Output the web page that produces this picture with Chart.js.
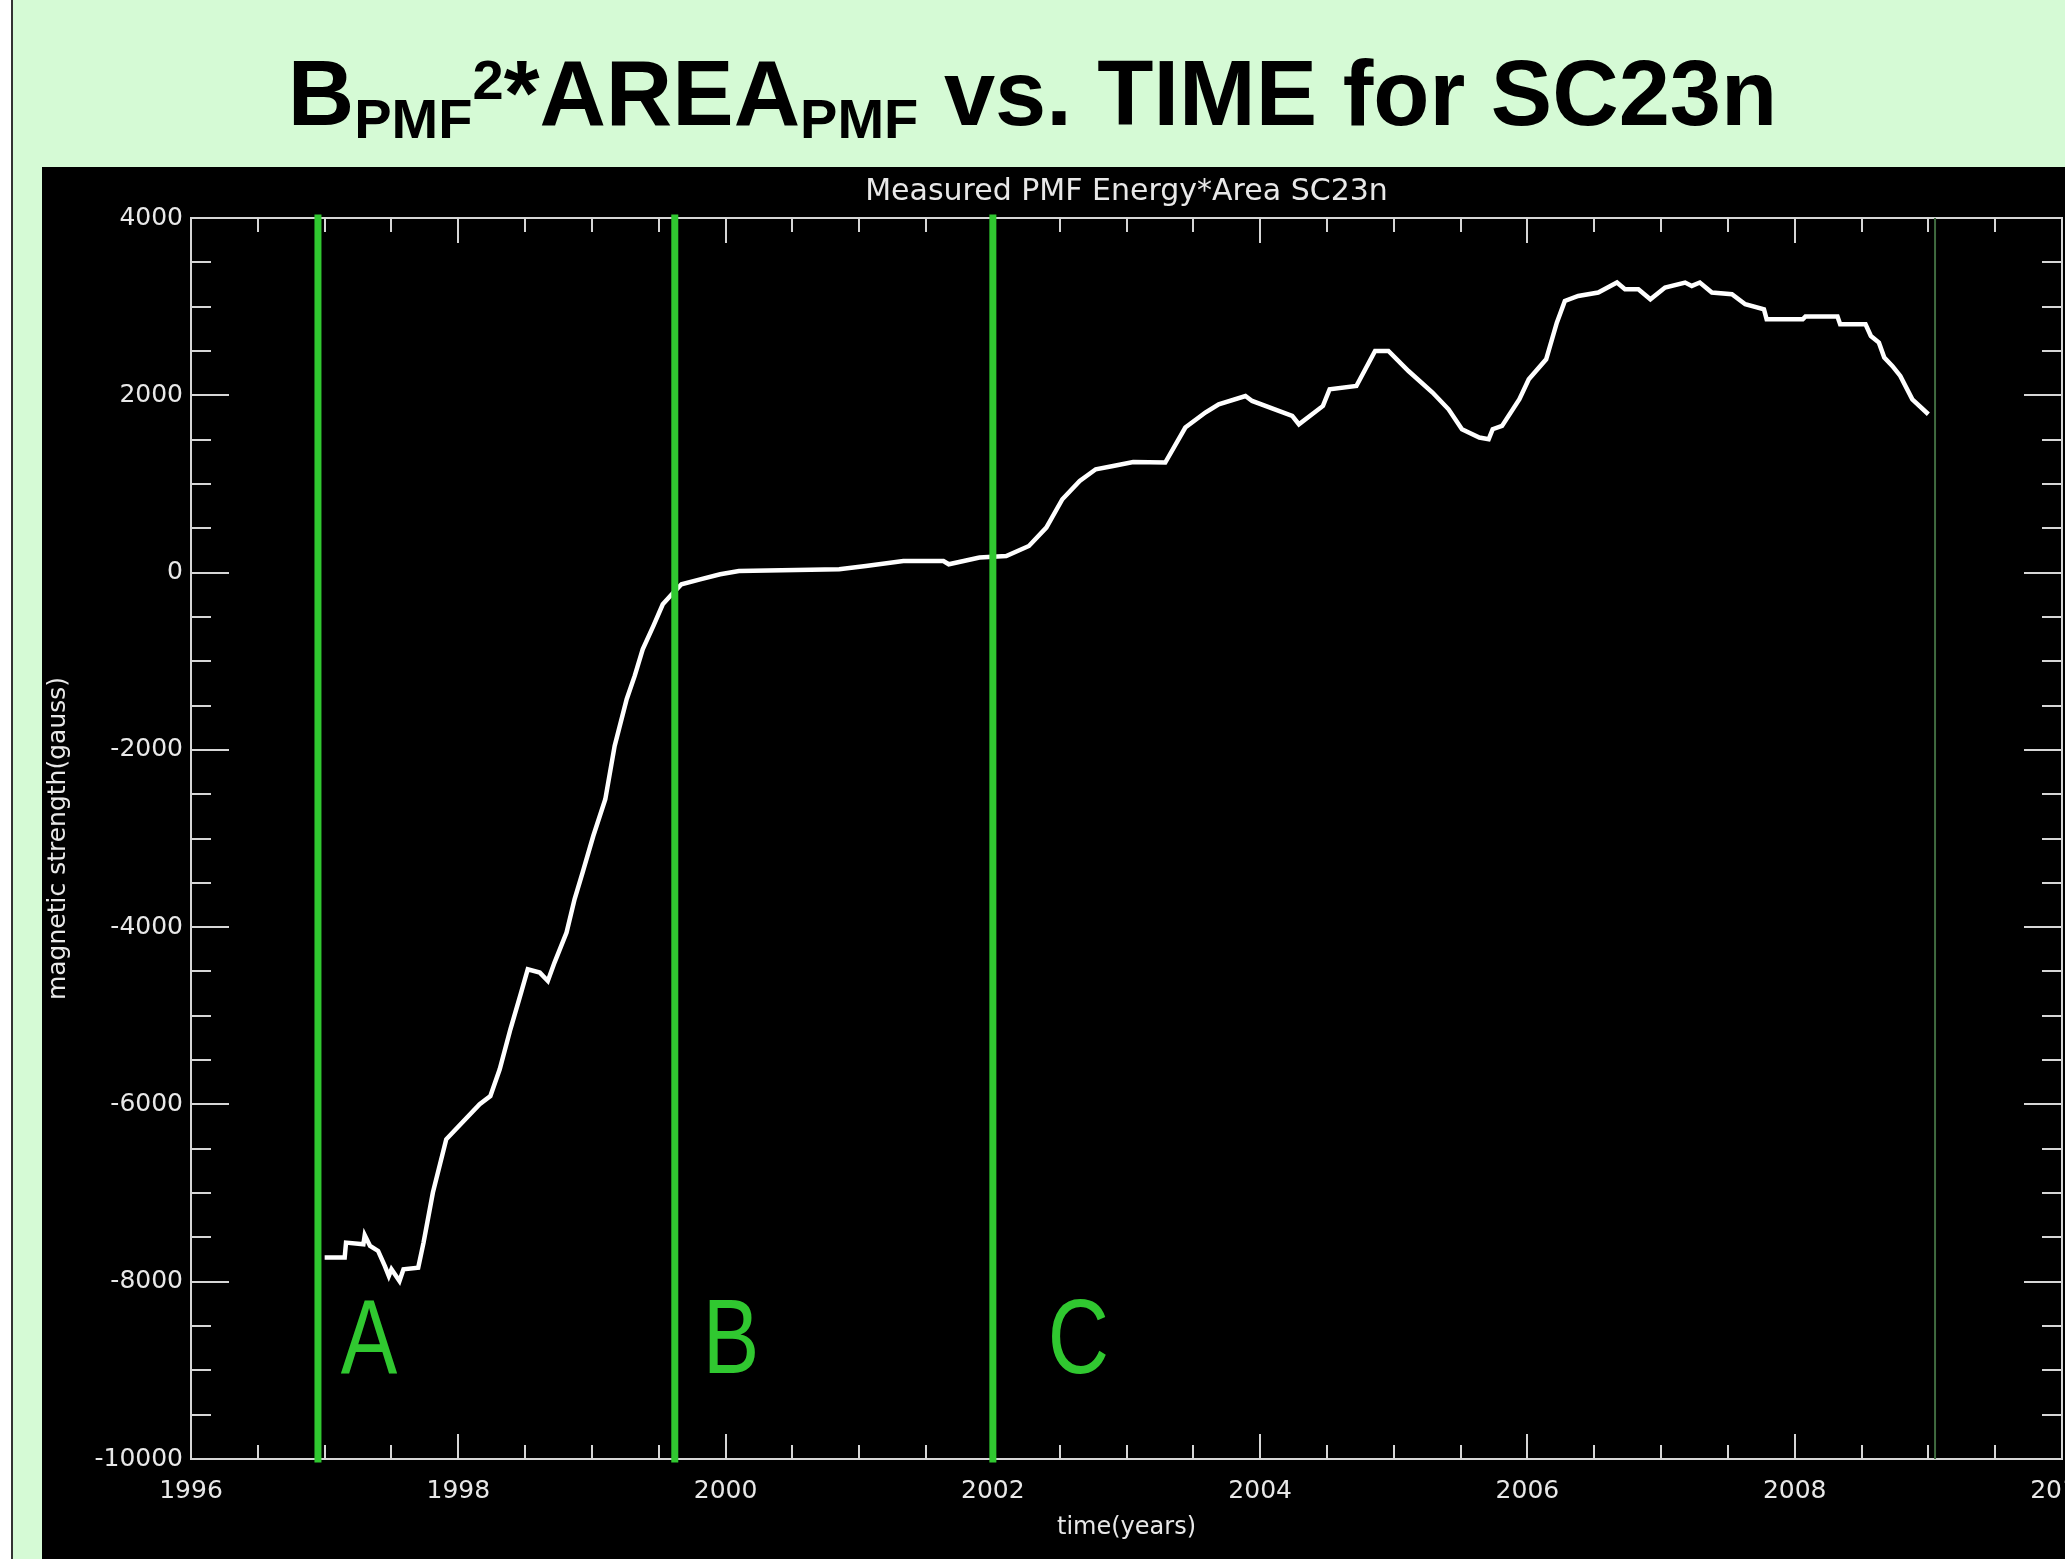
<!DOCTYPE html>
<html>
<head>
<meta charset="utf-8">
<script src="https://cdn.jsdelivr.net/npm/chart.js@4/dist/chart.umd.min.js"></script>
<style>
html,body{margin:0;padding:0;background:#fff;overflow:hidden;}
#wrap{position:relative;width:2065px;height:1559px;}
#c{position:absolute;left:0;top:0;}
#title{position:absolute;left:0;top:47px;width:2065px;text-align:center;font-family:"Liberation Sans",Arial,sans-serif;font-weight:bold;font-size:92px;line-height:92px;color:#000;white-space:nowrap;}
#title .sub{font-size:56px;position:relative;top:13px;}
#title .sup{font-size:56px;position:relative;top:-26px;}
</style>
</head>
<body>
<div id="wrap">
<canvas id="c" width="2065" height="1559"></canvas>
<div id="title">B<span class="sub">PMF</span><span class="sup">2</span>*AREA<span class="sub">PMF</span> vs. TIME for SC23n</div>
</div>
<script>
// ---- data ----
const years = [
  1997.00,1997.15,1997.16,1997.29,1997.30,1997.34,1997.40,1997.45,1997.48,1997.50,
  1997.56,1997.59,1997.70,1997.74,1997.81,1997.91,1998.16,1998.24,1998.31,1998.39,
  1998.47,1998.52,1998.61,1998.67,1998.72,1998.81,1998.87,1998.93,1999.01,1999.10,
  1999.17,1999.26,1999.32,1999.38,1999.46,1999.53,1999.61,1999.67,1999.81,1999.96,
  2000.10,2000.85,2001.05,2001.33,2001.63,2001.67,2001.90,2002.10,2002.27,2002.40,
  2002.52,2002.65,2002.77,2002.90,2003.05,2003.29,2003.44,2003.59,2003.69,2003.89,
  2003.94,2004.24,2004.29,2004.47,2004.52,2004.72,2004.86,2004.96,2005.11,2005.29,
  2005.41,2005.51,2005.64,2005.71,2005.74,2005.81,2005.94,2006.01,2006.14,2006.22,
  2006.28,2006.38,2006.53,2006.67,2006.73,2006.83,2006.92,2007.03,2007.18,2007.23,
  2007.29,2007.38,2007.53,2007.63,2007.77,2007.79,2008.06,2008.08,2008.32,2008.34,
  2008.53,2008.57,2008.63,2008.67,2008.73,2008.79,2008.88,2009.00
];
const energyArea = [
  -7728,-7728,-7559,-7578,-7476,-7597,-7653,-7822,-7935,-7860,
  -7992,-7860,-7841,-7559,-6994,-6393,-5998,-5905,-5604,-5152,
  -4738,-4475,-4513,-4607,-4400,-4061,-3686,-3384,-2972,-2558,
  -1956,-1429,-1166,-865,-602,-358,-226,-132,-76,-19,
  18,37,75,131,131,94,169,187,300,508,
  827,1034,1165,1203,1248,1241,1636,1805,1899,1992,
  1936,1767,1673,1880,2068,2105,2500,2500,2274,2031,
  1842,1617,1523,1504,1617,1654,1955,2181,2406,2820,
  3064,3121,3159,3272,3196,3196,3083,3215,3272,3234,
  3272,3159,3140,3027,2970,2858,2858,2888,2888,2801,
  2801,2669,2594,2425,2331,2218,1955,1786
];
const regionBoundaries = [1996.95, 1999.62, 2002.00];
const endMarker = [2009.05];
const regionLabels = ['A', 'B', 'C'];
const regionLabelYears = [1997.12, 1999.83, 2002.41];
const regionLabelValue = -9030;
const xRange = [1996, 2010];
const yRange = [-10000, 4000];
const xMinorStep = 0.5, xMajorStep = 2;
const yMinorStep = 500, yMajorStep = 2000;
const plotTitle = 'Measured PMF Energy*Area SC23n';
const xTitle = 'time(years)';
const yTitle = 'magnetic strength(gauss)';

// ---- styles ----
const PAGE_GREEN = '#d5fad5';
const AXIS = '#d6d6d6';
const TEXT = '#e8e8e8';
const MARK_GREEN = '#30c830';
const END_GREEN = '#3f6a3f';
const FONT = '"DejaVu Sans", sans-serif';

const panelPlugin = {
  id: 'panel',
  beforeDraw(chart) {
    const ctx = chart.ctx, W = chart.width, H = chart.height;
    ctx.save();
    ctx.fillStyle = '#ffffff'; ctx.fillRect(0, 0, W, H);
    ctx.fillStyle = PAGE_GREEN; ctx.fillRect(13, 0, W - 13, H);
    ctx.fillStyle = '#333333'; ctx.fillRect(11, 0, 2, H);
    ctx.fillStyle = '#000000'; ctx.fillRect(42, 167, W - 42, H - 167);
    ctx.restore();
  }
};

const framePlugin = {
  id: 'frame',
  beforeDatasetsDraw(chart) {
    const ctx = chart.ctx, a = chart.chartArea;
    const xs = chart.scales.x, ys = chart.scales.y;
    ctx.save();
    ctx.strokeStyle = AXIS; ctx.lineWidth = 2;
    ctx.strokeRect(a.left, a.top, a.right - a.left, a.bottom - a.top);
    ctx.beginPath();
    xs.ticks.forEach(t => {
      const px = Math.round(xs.getPixelForValue(t.value));
      const len = (Math.abs(t.value % xMajorStep) < 1e-6) ? 25 : 14;
      ctx.moveTo(px, a.bottom); ctx.lineTo(px, a.bottom - len);
      ctx.moveTo(px, a.top); ctx.lineTo(px, a.top + len);
    });
    ys.ticks.forEach(t => {
      const py = Math.round(ys.getPixelForValue(t.value));
      const len = (Math.abs(t.value % yMajorStep) < 1e-6) ? 38 : 20;
      ctx.moveTo(a.left, py); ctx.lineTo(a.left + len, py);
      ctx.moveTo(a.right, py); ctx.lineTo(a.right - len, py);
    });
    ctx.stroke();
    ctx.restore();
  },
  afterDatasetsDraw(chart) {
    const ctx = chart.ctx;
    const xs = chart.scales.x, ys = chart.scales.y;
    ctx.save();
    ctx.fillStyle = MARK_GREEN;
    ctx.font = '106px "Liberation Sans", sans-serif';
    ctx.textAlign = 'left';
    ctx.textBaseline = 'alphabetic';
    regionLabels.forEach((lab, i) => {
      const px = xs.getPixelForValue(regionLabelYears[i]);
      const py = ys.getPixelForValue(regionLabelValue);
      ctx.save();
      ctx.translate(px, py);
      ctx.scale(0.8, 1);
      ctx.fillText(lab, 0, 0);
      ctx.restore();
    });
    ctx.restore();
  }
};

const datasets = [];
regionBoundaries.forEach(b => datasets.push({
  data: [{x: b, y: yRange[0]}, {x: b, y: yRange[1]}],
  borderColor: MARK_GREEN, borderWidth: 7, pointRadius: 0, showLine: true,
  clip: false, borderCapStyle: 'square', order: 1
}));
endMarker.forEach(b => datasets.push({
  data: [{x: b, y: yRange[0]}, {x: b, y: yRange[1]}],
  borderColor: END_GREEN, borderWidth: 2, pointRadius: 0, showLine: true,
  clip: false, order: 1
}));
datasets.push({
  data: years.map((x, i) => ({x, y: energyArea[i]})),
  borderColor: '#ffffff', borderWidth: 4.5, pointRadius: 0, showLine: true,
  tension: 0, order: 2
});

new Chart(document.getElementById('c'), {
  type: 'scatter',
  data: { datasets },
  plugins: [panelPlugin, framePlugin],
  options: {
    responsive: false,
    animation: false,
    devicePixelRatio: 1,
    layout: { padding: { left: 42, right: 3, top: 167, bottom: 0 }, autoPadding: false },
    plugins: {
      legend: { display: false },
      tooltip: { enabled: false },
      title: { display: false }
    },
    scales: {
      x: {
        type: 'linear', min: xRange[0], max: xRange[1],
        afterFit: s => { s.height = 100; s.paddingLeft = 0; s.paddingRight = 0; },
        grid: { display: false, drawTicks: false },
        border: { display: false },
        ticks: {
          stepSize: xMinorStep, autoSkip: false, maxRotation: 0, padding: 17,
          color: TEXT, font: { family: FONT, size: 25 },
          callback: v => (Math.abs(v % xMajorStep) < 1e-6) ? String(v) : ''
        },
        title: {
          display: true, text: xTitle, color: TEXT,
          font: { family: FONT, size: 24 }, padding: { top: 0, bottom: 17 }
        }
      },
      xTop: {
        type: 'linear', position: 'top', min: xRange[0], max: xRange[1],
        afterFit: s => { s.height = 51; s.paddingLeft = 0; s.paddingRight = 0; },
        grid: { display: false, drawTicks: false },
        border: { display: false },
        ticks: { display: false },
        title: {
          display: true, text: plotTitle, color: TEXT,
          font: { family: FONT, size: 30 }, padding: { top: 7, bottom: 0 }
        }
      },
      y: {
        type: 'linear', min: yRange[0], max: yRange[1],
        afterFit: s => { s.width = 149; s.paddingTop = 0; s.paddingBottom = 0; },
        grid: { display: false, drawTicks: false },
        border: { display: false },
        ticks: {
          stepSize: yMinorStep, autoSkip: false, padding: 8,
          color: TEXT, font: { family: FONT, size: 25 },
          callback: v => (Math.abs(v % yMajorStep) < 1e-6) ? String(v) : ''
        },
        title: {
          display: true, text: yTitle, color: TEXT,
          font: { family: FONT, size: 25 }, padding: { top: 1, bottom: 0 }
        }
      }
    }
  }
});
</script>
</body>
</html>
